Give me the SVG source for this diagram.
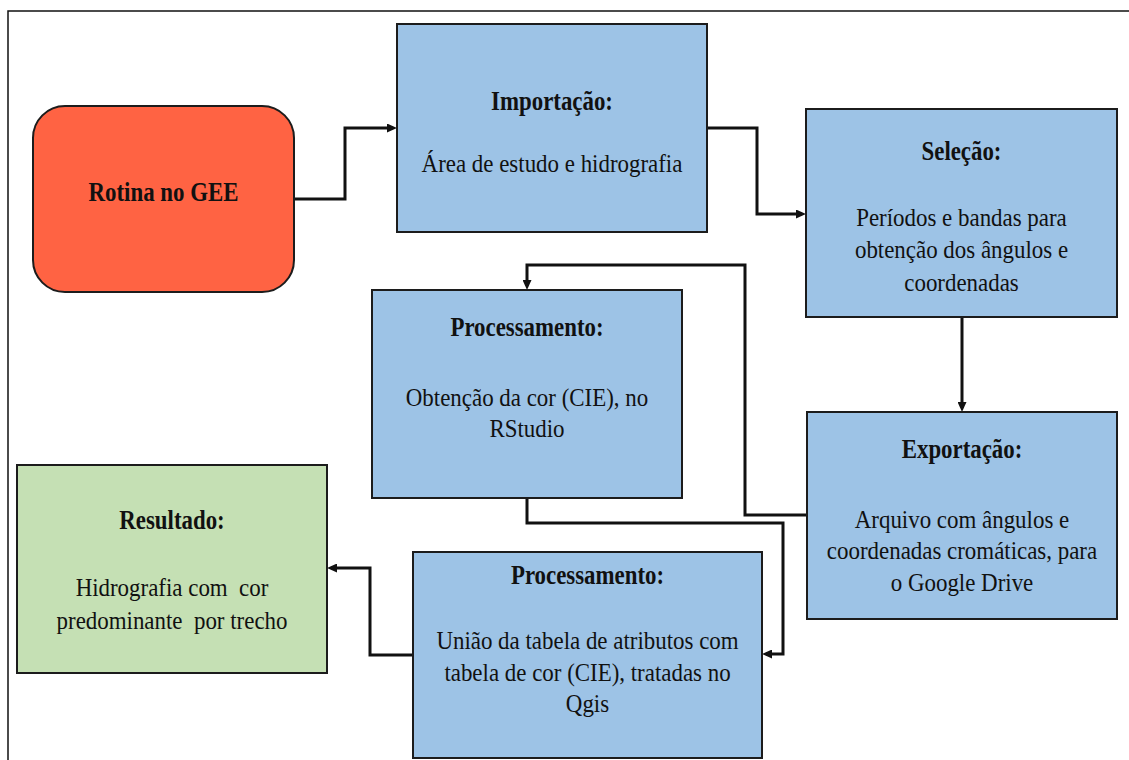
<svg xmlns="http://www.w3.org/2000/svg" width="1129" height="760" viewBox="0 0 1129 760">
  <style>
    .box { stroke: #1c1c1c; stroke-width: 2; }
    .blue { fill: #9DC3E6; }
    .green { fill: #C5E0B4; }
    .red { fill: #FF6343; }
    .h { font-family: "Liberation Serif", "Times New Roman", serif; font-weight: bold; font-size: 27px; fill: #111; text-anchor: middle; }
    .t { font-family: "Liberation Serif", "Times New Roman", serif; font-size: 25px; fill: #111; text-anchor: middle; }
    .conn { fill: none; stroke: #111; stroke-width: 3; marker-end: url(#arr); }
  </style>
  <defs>
    <marker id="arr" markerUnits="userSpaceOnUse" viewBox="0 0 10 9" markerWidth="10" markerHeight="9" refX="6" refY="4.5" orient="auto">
      <path d="M0,0 L10,4.5 L0,9 z" fill="#111"/>
    </marker>
  </defs>
  <rect x="0" y="0" width="1129" height="760" fill="#ffffff"/>
  <path d="M8,760 L8,11 L1129,11" fill="none" stroke="#111" stroke-width="1.5"/>

  <g id="connectors">
    <path class="conn" d="M294,199 L345,199 L345,128 L393,128"/>
    <path class="conn" d="M707,128 L757,128 L757,214 L802,214"/>
    <path class="conn" d="M962,317 L962,408"/>
    <path class="conn" d="M807,515 L745,515 L745,265 L527,265 L527,286"/>
    <path class="conn" d="M527,498 L527,523 L783,523 L783,654 L766,654"/>
    <path class="conn" d="M413,655 L370,655 L370,568 L331,568"/>
  </g>

  <g id="rotina">
    <rect class="box red" x="33" y="106" width="261" height="186" rx="32" ry="32"/>
    <text class="h" transform="translate(163.5,0) scale(0.847,1)" x="0" y="201">Rotina no GEE</text>
  </g>

  <g id="importacao">
    <rect class="box blue" x="397" y="24" width="310" height="208"/>
    <text class="h" transform="translate(552,0) scale(0.847,1)" x="0" y="110">Importação:</text>
    <text class="t" transform="translate(552,0) scale(0.917,1)" x="0" y="172">Área de estudo e hidrografia</text>
  </g>

  <g id="selecao">
    <rect class="box blue" x="806" y="109" width="311" height="208"/>
    <text class="h" transform="translate(961.5,0) scale(0.847,1)" x="0" y="160">Seleção:</text>
    <text class="t" transform="translate(961.5,0) scale(0.917,1)"><tspan x="0" y="226">Períodos e bandas para</tspan><tspan x="0" y="258">obtenção dos ângulos e</tspan><tspan x="0" y="291">coordenadas</tspan></text>
  </g>

  <g id="processamento1">
    <rect class="box blue" x="372" y="290" width="310" height="208"/>
    <text class="h" transform="translate(527,0) scale(0.847,1)" x="0" y="336">Processamento:</text>
    <text class="t" transform="translate(527,0) scale(0.917,1)"><tspan x="0" y="406">Obtenção da cor (CIE), no</tspan><tspan x="0" y="437">RStudio</tspan></text>
  </g>

  <g id="exportacao">
    <rect class="box blue" x="807" y="412" width="310" height="207"/>
    <text class="h" transform="translate(962,0) scale(0.847,1)" x="0" y="458">Exportação:</text>
    <text class="t" transform="translate(962,0) scale(0.917,1)"><tspan x="0" y="528">Arquivo com ângulos e</tspan><tspan x="0" y="559">coordenadas cromáticas, para</tspan><tspan x="0" y="591">o Google Drive</tspan></text>
  </g>

  <g id="resultado">
    <rect class="box green" x="17" y="465" width="310" height="208"/>
    <text class="h" transform="translate(172,0) scale(0.847,1)" x="0" y="529">Resultado:</text>
    <text class="t" transform="translate(172,0) scale(0.917,1)" x="0" y="596" xml:space="preserve">Hidrografia com  cor</text>
    <text class="t" transform="translate(172,0) scale(0.917,1)" x="0" y="629" xml:space="preserve">predominante  por trecho</text>
  </g>

  <g id="processamento2">
    <rect class="box blue" x="413" y="552" width="349" height="206"/>
    <text class="h" transform="translate(587.5,0) scale(0.847,1)" x="0" y="584">Processamento:</text>
    <text class="t" transform="translate(587.5,0) scale(0.917,1)"><tspan x="0" y="649">União da tabela de atributos com</tspan><tspan x="0" y="681">tabela de cor (CIE), tratadas no</tspan><tspan x="0" y="712">Qgis</tspan></text>
  </g>
</svg>
